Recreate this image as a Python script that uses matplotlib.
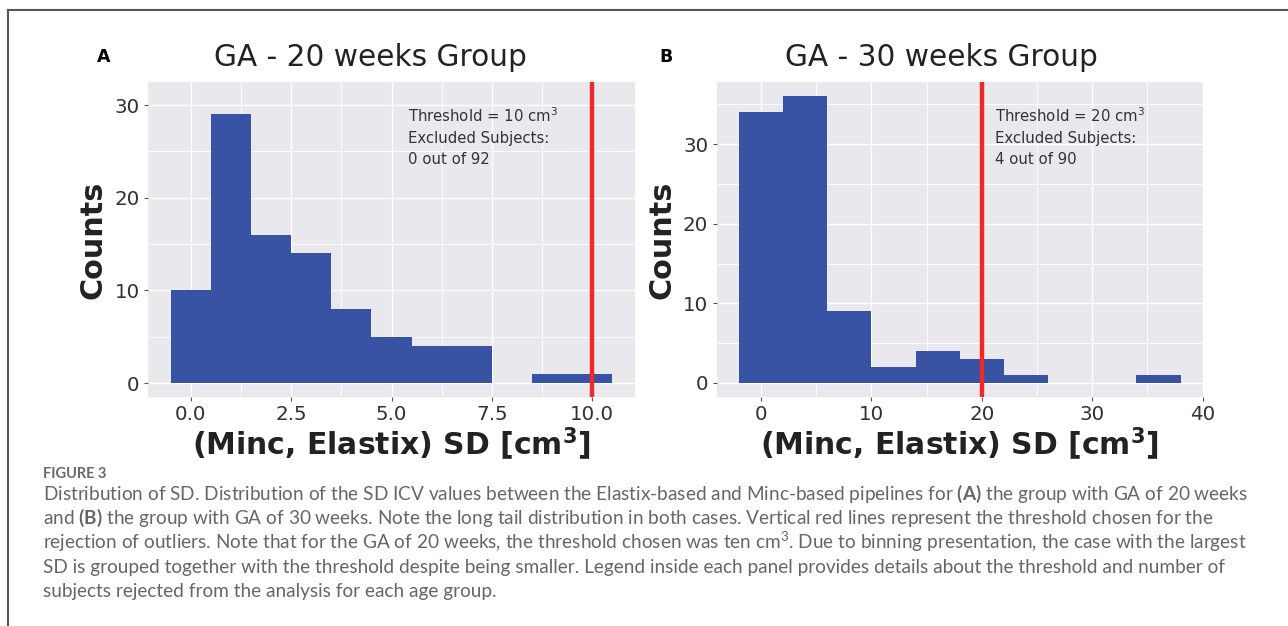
import numpy as np
import matplotlib
matplotlib.use("Agg")
import matplotlib.pyplot as plt
from matplotlib.lines import Line2D
from matplotlib.ticker import FixedLocator, FormatStrFormatter

plt.rcParams['font.family'] = ['DejaVu Sans']
plt.rcParams['mathtext.fontset'] = 'custom'
plt.rcParams['mathtext.rm'] = 'Lato'
plt.rcParams['mathtext.bf'] = 'Lato:bold'
plt.rcParams['mathtext.it'] = 'Lato:italic'

# histogram bins (centres) and counts
bins_20 = [0, 1, 2, 3, 4, 5, 6, 7, 8, 9, 10]
counts_20 = [10, 29, 16, 14, 8, 5, 4, 4, 0, 1, 1]
width_20 = 1
bins_30 = [0, 4, 8, 12, 16, 20, 24, 28, 32, 36]
counts_30 = [34, 36, 9, 2, 4, 3, 1, 0, 0, 1]
width_30 = 4

thresholds = [10, 20]
titles = ["GA - 20 weeks Group", "GA - 30 weeks Group"]
panel_letters = ["A", "B"]
notes = [["Threshold = 10 cm$^3$", "Excluded Subjects:", "0 out of 92"],
         ["Threshold = 20 cm$^3$", "Excluded Subjects:", "4 out of 90"]]

caption_head = "FIGURE 3"
caption_lines = [
    r"Distribution of SD. Distribution of the SD ICV values between the Elastix-based and Minc-based pipelines for $\mathbf{(A)}$ the group with GA of 20 weeks",
    r"and $\mathbf{(B)}$ the group with GA of 30 weeks. Note the long tail distribution in both cases. Vertical red lines represent the threshold chosen for the",
    r"rejection of outliers. Note that for the GA of 20 weeks, the threshold chosen was ten cm$^3$. Due to binning presentation, the case with the largest",
    "SD is grouped together with the threshold despite being smaller. Legend inside each panel provides details about the threshold and number of",
    "subjects rejected from the analysis for each age group.",
]

W, H = 1288, 626
fig = plt.figure(figsize=(W / 100, H / 100), dpi=100)
fig.patch.set_facecolor("white")

def px(x0, y0, x1, y1):
    return [x0 / W, 1 - y1 / H, (x1 - x0) / W, (y1 - y0) / H]

ax_a = fig.add_axes(px(148, 82, 635, 397))
ax_b = fig.add_axes(px(716.7, 82, 1202.7, 397))

bar_color = "#3953a4"
bg = "#e9e9ed"

setups = [
    (ax_a, bins_20, counts_20, width_20, (-1.06, 11.06), (-1.51, 32.5),
     [0, 2.5, 5, 7.5, 10], [1.25, 3.75, 6.25, 8.75], [0, 10, 20, 30], [5, 15, 25], "%.1f", 5.41),
    (ax_b, bins_30, counts_30, width_30, (-4.0, 40.0), (-1.76, 37.8),
     [0, 10, 20, 30, 40], [5, 15, 25, 35], [0, 10, 20, 30], [5, 15, 25, 35], "%d", 21.2),
]

for i, (ax, b, c, w, xl, yl, xmaj, xmin, ymaj, ymin, fmt, note_x) in enumerate(setups):
    ax.set_facecolor(bg)
    ax.bar(b, c, width=w, color=bar_color, linewidth=0, zorder=2)
    ax.axvline(thresholds[i], color="#ee2a2b", linewidth=3.2, zorder=3)
    ax.set_xlim(*xl)
    ax.set_ylim(*yl)
    ax.xaxis.set_major_locator(FixedLocator(xmaj))
    ax.xaxis.set_minor_locator(FixedLocator(xmin))
    ax.yaxis.set_major_locator(FixedLocator(ymaj))
    ax.yaxis.set_minor_locator(FixedLocator(ymin))
    ax.xaxis.set_major_formatter(FormatStrFormatter(fmt))
    ax.grid(True, which="major", color="white", linewidth=1.0, zorder=0)
    ax.grid(True, which="minor", color="white", linewidth=0.6, zorder=0)
    ax.set_axisbelow(True)
    for s in ax.spines.values():
        s.set_visible(False)
    ax.tick_params(which="major", length=3, width=0.8, color="#555555",
                   labelsize=14.3, labelcolor="#333333", pad=3)
    ax.tick_params(which="minor", length=0)
    ax.set_xlabel("(Minc, Elastix) SD [cm$^\\mathbf{3}$]", fontsize=21.5, fontweight="bold",
                  color="#222222", labelpad=1, math_fontfamily="dejavusans")
    ax.set_ylabel("Counts", fontsize=21.8, fontweight="bold", color="#222222", labelpad=5)
    # note lines placed by pixel baseline
    for j, line in enumerate(notes[i]):
        yb = [121.7, 143.0, 164.3][j]
        ax.text(note_x, (397 - yb) / 315, line, transform=ax.get_xaxis_transform(), fontsize=10.7,
                color="#333333", va="baseline", ha="left", math_fontfamily="dejavusans")

fig.text(370 / W, 1 - 58 / H, titles[0], fontsize=21.3, color="#222222", ha="center", va="center")
fig.text(941.7 / W, 1 - 58 / H, titles[1], fontsize=21.3, color="#222222", ha="center", va="center")
fig.text(104 / W, 1 - 57 / H, panel_letters[0], fontsize=12.5, fontweight="bold", ha="center", va="center")
fig.text(666 / W, 1 - 57 / H, panel_letters[1], fontsize=12.5, fontweight="bold", ha="center", va="center")

# caption
fig.text(42.7 / W, 1 - 477.7 / H, caption_head, fontsize=10.5, fontweight="bold", family="Lato",
         color="#6a6a6a", va="baseline")
for k, line in enumerate(caption_lines):
    yb = 500 + k * 24.2
    fig.text(42.7 / W, 1 - yb / H, line, fontsize=13.7, family="Lato", color="#666666", va="baseline")

# frame lines around the figure box
fig.add_artist(Line2D([7.5 / W, 1], [1 - 10 / H, 1 - 10 / H], color="#555555", linewidth=1.5))
fig.add_artist(Line2D([7.5 / W, 7.5 / W], [0, 1 - 10 / H], color="#555555", linewidth=1.5))

fig.savefig("out.png", dpi=100)
